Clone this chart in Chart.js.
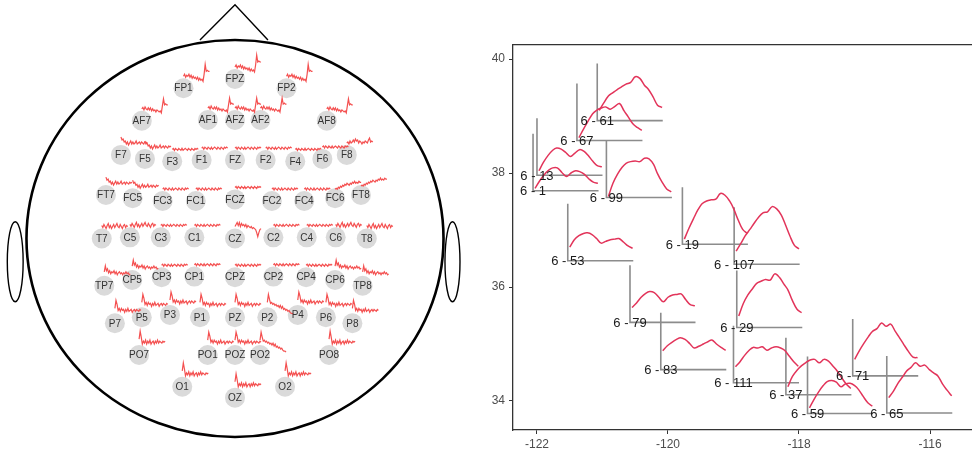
<!DOCTYPE html>
<html>
<head>
<meta charset="utf-8">
<script src="https://cdn.jsdelivr.net/npm/chart.js@4.4.1/dist/chart.umd.min.js"></script>
<style>
  html, body { margin:0; padding:0; background:#fff; overflow:hidden; }
  #headChart { position:absolute; left:0; top:0; }
  #mapChart { position:absolute; left:470px; top:0; }
</style>
</head>
<body>
<canvas id="headChart" width="470" height="455"></canvas>
<canvas id="mapChart" width="502" height="455"></canvas>
<script>
// ---------- left panel: electrodes on the scalp (head units, centre 0,0, radius 1)
const electrodes = ["FP1","FPZ","FP2",
  "AF7","AF1","AFZ","AF2","AF8",
  "F7","F5","F3","F1","FZ","F2","F4","F6","F8",
  "FT7","FC5","FC3","FC1","FCZ","FC2","FC4","FC6","FT8",
  "T7","C5","C3","C1","CZ","C2","C4","C6","T8",
  "TP7","CP5","CP3","CP1","CPZ","CP2","CP4","CP6","TP8",
  "P7","P5","P3","P1","PZ","P2","P4","P6","P8",
  "PO7","PO1","POZ","PO2","PO8",
  "O1","OZ","O2"];
const elecX = [-0.247, 0, 0.247,
  -0.447, -0.130, 0, 0.122, 0.440,
  -0.547, -0.432, -0.301, -0.160, 0, 0.147, 0.289, 0.419, 0.536,
  -0.619, -0.491, -0.347, -0.188, 0, 0.177, 0.332, 0.480, 0.604,
  -0.639, -0.504, -0.356, -0.195, 0, 0.184, 0.344, 0.483, 0.632,
  -0.627, -0.493, -0.352, -0.195, 0, 0.184, 0.341, 0.480, 0.612,
  -0.576, -0.447, -0.312, -0.168, 0, 0.155, 0.301, 0.436, 0.563,
  -0.460, -0.131, 0, 0.120, 0.451,
  -0.253, 0, 0.240];
const elecY = [0.757, 0.804, 0.757,
  0.593, 0.597, 0.597, 0.597, 0.593,
  0.421, 0.401, 0.389, 0.395, 0.395, 0.395, 0.389, 0.401, 0.421,
  0.219, 0.203, 0.189, 0.189, 0.197, 0.189, 0.189, 0.203, 0.219,
  0, 0.006, 0.006, 0.006, 0, 0.006, 0.006, 0.006, 0,
  -0.238, -0.209, -0.195, -0.192, -0.195, -0.192, -0.195, -0.209, -0.238,
  -0.427, -0.397, -0.385, -0.397, -0.397, -0.397, -0.385, -0.397, -0.427,
  -0.587, -0.587, -0.587, -0.587, -0.587,
  -0.747, -0.802, -0.747];

// averaged traces (uV, 25 samples) drawn beside each electrode
const waveFP   = [0, 2, -1, 1, 0, 2, -1, 1, -2, 0, -2, -1, -3, -1, -4, -2, -4, -3, -5, 2, 12, 5, 6, 5, 5];
const waveAF   = [0, 1.5, -1, 2, 0, -1, 1, -1, 1, -2, 0, -2, -1, -3, -1, -2, -3, -2, -4, 3, 10, 4, 5, 4, 4];
const waveFL   = [6, 3, 4, 1, 2, -1, 1, -2, 0, 2, -1, 1, -1, 0, 2, -1, 0, 1, -1, 1, 0, -1, 1, 0, 1];
const waveFlat = [0, 1, -1, 1, 0, -1, 1, 0, -1, 1, -1, 0, 1, 0, -1, 1, 0, -1, 1, 0, -1, 1, 0, 1, 0];
const waveFR   = [0, 1, -1, 2, 0, 1, 3, 1, 4, 2, 3, 0, 2, 1, -1, 1, 0, 2, 1, 0, 3, 5, 1, 2, 1];
const waveRise = [-3, -2, -3, -1, -2, 0, -1, 1, 0, 2, 1, 3, 2, 1, 3, 2, 4, 3, 5, 3, 4, 3, 5, 4, 4];
const waveCZ   = [0, 2, 4, 1, 4, 0, 3, 1, 2, 0, 2, -1, 1, 0, -1, 0, -2, -1, -2, -3, -6, -10, -6, -3, -2];
const waveCL   = [1, -1, 2, 0, -2, 1, 3, -1, 1, -2, 0, 2, -1, 1, 3, 0, -1, 2, 0, -2, 1, 2, -1, 1, 0];
const waveCP   = [2, 8, 3, 5, 1, 3, 0, 2, 1, 3, 0, 2, -1, 1, 2, 0, 1, -1, 1, 0, 2, 0, 1, -1, 0];
const wavePost = [3, 11, 7, 1, 3, 0, 3, 1, 2, -1, 2, 0, 3, 0, 1, 2, -1, 1, 2, 0, 2, 1, 0, 2, 1];
const waveDrop = [3, 11, 6, 2, 3, 1, 2, 0, 1, -1, 0, -2, 0, -3, -1, -4, -3, -5, -4, -6, -5, -7, -8, -8, -9];
const waveOcc  = [4, 12, 6, -1, 2, 0, 3, -1, 2, 0, 3, -1, 1, 2, -1, 2, 0, 3, 0, 2, 1, 0, 2, 1, 2];

const elecWave = [waveFP, waveFP, waveFP,
  waveAF, waveAF, waveAF, waveAF, waveAF,
  waveFL, waveFL, waveFlat, waveFlat, waveFlat, waveFlat, waveFlat, waveFlat, waveFR,
  waveFL, waveFL, waveFlat, waveFlat, waveFlat, waveFlat, waveFlat, waveRise, waveRise,
  waveCL, waveCL, waveFlat, waveFlat, waveCZ, waveFlat, waveFlat, waveCL, waveCL,
  waveCP, waveCP, waveFlat, waveFlat, waveFlat, waveFlat, waveFlat, waveCP, waveCP,
  wavePost, wavePost, wavePost, wavePost, wavePost, waveDrop, wavePost, wavePost, wavePost,
  waveOcc, wavePost, wavePost, waveDrop, waveOcc,
  waveOcc, waveOcc, waveOcc];

const traceStep = 0.0052, traceGain = 0.00504, traceLift = 0.06;

const headDatasets = [{
  data: electrodes.map((n, i) => ({ x: elecX[i], y: elecY[i] })),
  pointRadius: 10, pointHoverRadius: 10,
  backgroundColor: "#dadada", borderWidth: 0, order: 3
}];
electrodes.forEach((n, i) => {
  headDatasets.push({
    data: elecWave[i].map((v, k) => ({ x: elecX[i] + k * traceStep, y: elecY[i] + traceLift + v * traceGain })),
    showLine: true, borderColor: "#f45050", borderWidth: 1.2,
    pointRadius: 0, tension: 0, order: 1
  });
});

const headOutline = {
  id: "headOutline",
  beforeDatasetsDraw(chart) {
    const { ctx, scales: { x, y } } = chart;
    const cx = x.getPixelForValue(0), cy = y.getPixelForValue(0);
    const rx = x.getPixelForValue(1) - cx, ry = cy - y.getPixelForValue(1);
    ctx.save();
    ctx.strokeStyle = "#000";
    ctx.lineWidth = 2.6;
    ctx.beginPath();
    ctx.ellipse(cx, cy, rx, ry, 0, 0, Math.PI * 2);
    ctx.stroke();
    ctx.lineWidth = 1.4;
    ctx.beginPath();
    ctx.moveTo(x.getPixelForValue(-0.168), y.getPixelForValue(1.0));
    ctx.lineTo(x.getPixelForValue(0), y.getPixelForValue(1.178));
    ctx.lineTo(x.getPixelForValue(0.158), y.getPixelForValue(1.0));
    ctx.stroke();
    [[-1.054, 0.038], [1.043, 0.036]].forEach(([ex, erx]) => {
      ctx.beginPath();
      ctx.ellipse(x.getPixelForValue(ex), y.getPixelForValue(-0.117),
        x.getPixelForValue(ex + erx) - x.getPixelForValue(ex),
        y.getPixelForValue(0) - y.getPixelForValue(0.2015), 0, 0, Math.PI * 2);
      ctx.stroke();
    });
    ctx.restore();
  },
  afterDatasetsDraw(chart) {
    const { ctx, scales: { x, y } } = chart;
    ctx.save();
    ctx.fillStyle = "#333";
    ctx.font = '10px "Liberation Sans", Arial, sans-serif';
    ctx.textAlign = "center";
    ctx.textBaseline = "middle";
    electrodes.forEach((n, i) => {
      ctx.fillText(n, x.getPixelForValue(elecX[i]), y.getPixelForValue(elecY[i]) + 0.5);
    });
    ctx.restore();
  }
};

new Chart(document.getElementById("headChart"), {
  type: "scatter",
  data: { datasets: headDatasets },
  options: {
    responsive: false, animation: false,
    layout: { padding: 0, autoPadding: false },
    plugins: { legend: { display: false }, tooltip: { enabled: false } },
    scales: {
      x: { type: "linear", display: false, min: -1.127, max: 1.127 },
      y: { type: "linear", display: false, min: -1.0907, max: 1.2015 }
    }
  },
  plugins: [headOutline]
});

// ---------- right panel: sites on lon / lat with small trend insets
const sites   = ["6 - 1","6 - 13","6 - 67","6 - 61","6 - 99","6 - 53","6 - 19","6 - 107",
                 "6 - 79","6 - 29","6 - 83","6 - 111","6 - 37","6 - 59","6 - 71","6 - 65"];
const siteLon = [-122.06, -122.0, -121.39, -121.08, -120.94, -121.53, -119.78, -118.99,
                 -120.58, -118.95, -120.11, -119.0, -118.20, -117.87, -117.18, -116.66];
const siteLat = [37.69, 37.96, 38.57, 38.92, 37.57, 36.46, 36.75, 36.40,
                 35.38, 35.29, 34.55, 34.32, 34.11, 33.78, 34.44, 33.79];
const insetX = [0.03, 0.10, 0.17, 0.24, 0.30, 0.37, 0.44, 0.51, 0.58, 0.65, 0.72, 0.78, 0.85, 0.92, 0.99];

const trend1   = [0.04, 0.17, 0.28, 0.36, 0.40, 0.40, 0.32, 0.25, 0.31, 0.35, 0.33, 0.29, 0.21, 0.15, 0.13];
const trend13  = [0.08, 0.23, 0.35, 0.44, 0.48, 0.46, 0.40, 0.33, 0.39, 0.45, 0.42, 0.35, 0.25, 0.17, 0.15];
const trend67  = [0.05, 0.20, 0.34, 0.47, 0.53, 0.57, 0.59, 0.55, 0.60, 0.65, 0.52, 0.42, 0.30, 0.23, 0.18];
const trend61  = [0.18, 0.31, 0.43, 0.49, 0.54, 0.59, 0.64, 0.67, 0.77, 0.74, 0.62, 0.55, 0.42, 0.27, 0.23];
const trend99  = [0.02, 0.25, 0.41, 0.53, 0.60, 0.63, 0.64, 0.63, 0.69, 0.68, 0.58, 0.42, 0.27, 0.15, 0.10];
const trend53  = [0.24, 0.37, 0.44, 0.48, 0.49, 0.46, 0.39, 0.31, 0.34, 0.37, 0.38, 0.39, 0.33, 0.26, 0.22];
const trend19  = [0.09, 0.28, 0.45, 0.61, 0.71, 0.76, 0.78, 0.79, 0.89, 0.86, 0.76, 0.63, 0.43, 0.26, 0.19];
const trend107 = [0.23, 0.36, 0.50, 0.61, 0.71, 0.82, 0.90, 0.92, 1.01, 0.97, 0.86, 0.70, 0.50, 0.33, 0.27];
const trend79  = [0.26, 0.34, 0.44, 0.51, 0.54, 0.52, 0.44, 0.36, 0.44, 0.48, 0.49, 0.50, 0.40, 0.31, 0.29];
const trend29  = [0.20, 0.42, 0.57, 0.68, 0.77, 0.81, 0.84, 0.83, 0.94, 0.88, 0.76, 0.66, 0.47, 0.32, 0.26];
const trend83  = [0.33, 0.42, 0.48, 0.53, 0.56, 0.53, 0.46, 0.38, 0.41, 0.45, 0.49, 0.52, 0.45, 0.39, 0.34];
const trend111 = [0.28, 0.37, 0.48, 0.57, 0.62, 0.61, 0.63, 0.57, 0.61, 0.63, 0.61, 0.57, 0.47, 0.37, 0.29];
const trend37  = [0.14, 0.32, 0.43, 0.51, 0.56, 0.61, 0.62, 0.56, 0.62, 0.59, 0.50, 0.42, 0.30, 0.19, 0.11];
const trend59  = [0.10, 0.25, 0.38, 0.49, 0.56, 0.58, 0.55, 0.47, 0.52, 0.53, 0.49, 0.42, 0.30, 0.19, 0.13];
const trend71  = [0.29, 0.44, 0.57, 0.69, 0.78, 0.83, 0.93, 0.87, 0.91, 0.78, 0.66, 0.55, 0.43, 0.33, 0.32];
const trend65  = [0.27, 0.38, 0.52, 0.63, 0.73, 0.80, 0.88, 0.82, 0.84, 0.76, 0.70, 0.65, 0.51, 0.40, 0.30];
const siteTrend = [trend1, trend13, trend67, trend61, trend99, trend53, trend19, trend107,
                   trend79, trend29, trend83, trend111, trend37, trend59, trend71, trend65];

const lonTicks = [-122, -120, -118, -116];
const latTicks = [34, 36, 38, 40];

const insetSize = 1;
const mapDatasets = [];
sites.forEach((s, i) => {
  const x0 = siteLon[i], y0 = siteLat[i];
  mapDatasets.push({
    data: [{ x: x0, y: y0 + insetSize }, { x: x0, y: y0 }, { x: x0 + insetSize, y: y0 }],
    showLine: true, borderColor: "#8c8c8c", borderWidth: 1.6, pointRadius: 0, order: 2
  });
  mapDatasets.push({
    data: siteTrend[i].map((v, k) => ({ x: x0 + insetX[k] * insetSize, y: y0 + v * insetSize })),
    showLine: true, borderColor: "#e2345a", borderWidth: 1.5, pointRadius: 0,
    tension: 0.35, order: 1
  });
});

const siteLabels = {
  id: "siteLabels",
  afterDatasetsDraw(chart) {
    const { ctx, scales: { x, y } } = chart;
    ctx.save();
    ctx.fillStyle = "#1a1a1a";
    ctx.font = '13px "Liberation Sans", Arial, sans-serif';
    ctx.textAlign = "center";
    ctx.textBaseline = "middle";
    sites.forEach((s, i) => ctx.fillText(s, x.getPixelForValue(siteLon[i]), y.getPixelForValue(siteLat[i]) + 1));
    ctx.restore();
  }
};

const axisGrey = "#4d4d4d";
new Chart(document.getElementById("mapChart"), {
  type: "scatter",
  data: { datasets: mapDatasets },
  options: {
    responsive: false, animation: false,
    layout: { padding: 0, autoPadding: false },
    plugins: { legend: { display: false }, tooltip: { enabled: false } },
    scales: {
      x: {
        type: "linear", position: "bottom", min: -122.366, max: -115.359,
        afterBuildTicks: s => { s.ticks = lonTicks.map(v => ({ value: v })); },
        afterFit: s => { s.height = 25; },
        ticks: { color: axisGrey, padding: 3, font: { size: 12, family: '"Liberation Sans", Arial, sans-serif' } },
        grid: { display: true, drawOnChartArea: false, drawTicks: true, tickLength: 4, color: "#333" },
        border: { display: true, color: "#333", width: 1.3 }
      },
      xTop: {
        type: "linear", position: "top", min: -122.366, max: -115.359,
        afterFit: s => { s.height = 45; },
        ticks: { display: false },
        grid: { display: false },
        border: { display: true, color: "#333", width: 1.3 }
      },
      y: {
        type: "linear", position: "left", min: 33.491, max: 40.246,
        afterBuildTicks: s => { s.ticks = latTicks.map(v => ({ value: v })); },
        afterFit: s => { s.width = 43; },
        ticks: { color: axisGrey, padding: 4, font: { size: 12, family: '"Liberation Sans", Arial, sans-serif' } },
        grid: { display: true, drawOnChartArea: false, drawTicks: true, tickLength: 4, color: "#333" },
        border: { display: true, color: "#333", width: 1.3 }
      }
    }
  },
  plugins: [siteLabels]
});
</script>
</body>
</html>
